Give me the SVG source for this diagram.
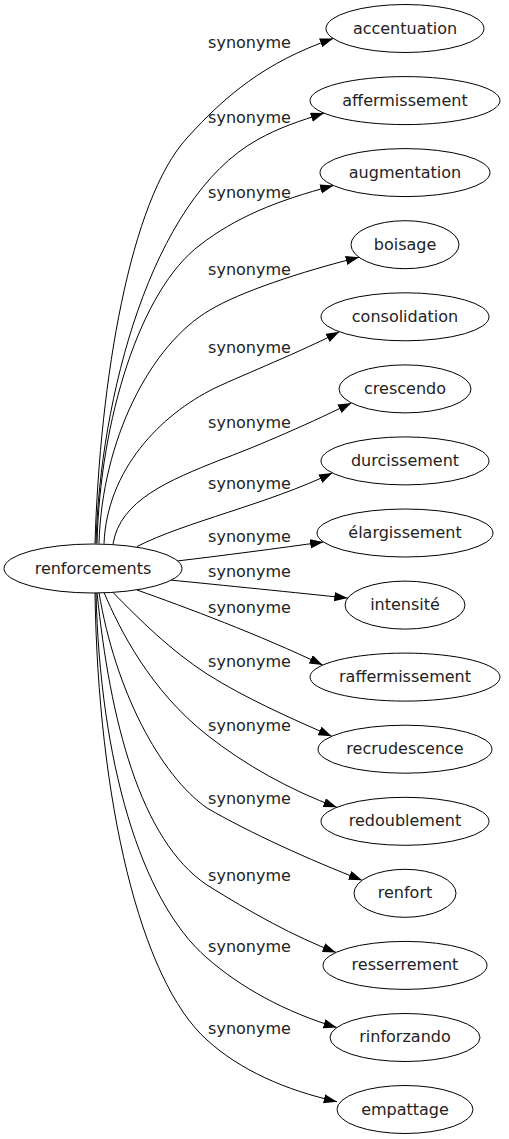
<svg xmlns="http://www.w3.org/2000/svg" width="509" height="1139" viewBox="0 0 509 1139">
<style>
.n ellipse{fill:#fff;stroke:#000;stroke-width:1}
text{font-family:"DejaVu Sans",sans-serif;font-size:16px;fill:#222;text-anchor:middle}
.e path{fill:none;stroke:#000;stroke-width:1}
</style>
<defs>
<marker id="ah" markerUnits="userSpaceOnUse" markerWidth="15" markerHeight="11" refX="13.3" refY="4.67" orient="auto">
<path d="M0,0 L13.3,4.67 L0,9.33 Z" fill="#000"/>
</marker>
</defs>
<rect width="509" height="1139" fill="#fff"/>
<g class="e" id="edges">
<path marker-end="url(#ah)" d="M95,543.5 C100,380 130,200 187,138 C225,96 265,62 333.2,38.5"/>
<path marker-end="url(#ah)" d="M96,543.5 C100,400 150,200 257,140 C280,127 300,121 324,113.1"/>
<path marker-end="url(#ah)" d="M97,543.5 C100,420 140,290 200,245 C235,218 275,201 333.5,185.6"/>
<path marker-end="url(#ah)" d="M99,543.5 C102,440 150,345 210,310 C240,292 300,272 359,257.2"/>
<path marker-end="url(#ah)" d="M104,543.7 C107,470 160,415 215,388 C245,374 300,352 339.4,331.8"/>
<path marker-end="url(#ah)" d="M113,544 C120,500 170,480 220,460 C250,449 300,428 351.4,402.9"/>
<path marker-end="url(#ah)" d="M137,546.5 C185,522 268,504 332.3,472.9"/>
<path marker-end="url(#ah)" d="M177,561 C220,556 280,548 323.4,542"/>
<path marker-end="url(#ah)" d="M170,580 C220,585 300,593 347.6,598.1"/>
<path marker-end="url(#ah)" d="M137,590 C185,607 260,635 322.7,665.1"/>
<path marker-end="url(#ah)" d="M113,592.5 C140,620 170,650 207,674 C245,698 290,718 331.8,736.2"/>
<path marker-end="url(#ah)" d="M104,592.5 C120,630 150,690 207,735 C245,765 290,790 336.8,807.3"/>
<path marker-end="url(#ah)" d="M99,592.5 C115,690 160,775 207,808 C250,833 310,860 362.1,880.3"/>
<path marker-end="url(#ah)" d="M97,592.5 C110,720 140,840 207,885 C250,912 295,937 336,952.4"/>
<path marker-end="url(#ah)" d="M96,592.5 C100,760 140,900 207,958 C240,987 285,1012 336.8,1027.5"/>
<path marker-end="url(#ah)" d="M95,592.5 C98,800 140,980 207,1040 C240,1070 285,1090 337,1101.7"/>
<text x="249.5" y="48">synonyme</text>
<text x="249.5" y="123">synonyme</text>
<text x="249.5" y="198">synonyme</text>
<text x="249.5" y="275">synonyme</text>
<text x="249.5" y="353">synonyme</text>
<text x="249.5" y="428">synonyme</text>
<text x="249.5" y="489">synonyme</text>
<text x="249.5" y="542">synonyme</text>
<text x="249.5" y="577">synonyme</text>
<text x="249.5" y="613">synonyme</text>
<text x="249.5" y="667">synonyme</text>
<text x="249.5" y="731">synonyme</text>
<text x="249.5" y="804">synonyme</text>
<text x="249.5" y="881">synonyme</text>
<text x="249.5" y="952">synonyme</text>
<text x="249.5" y="1034">synonyme</text>
</g>
<g class="n" id="renforcements"><ellipse cx="93" cy="568.5" rx="89" ry="24.5"/><text x="93" y="574">renforcements</text></g>
<g class="n" id="accentuation"><ellipse cx="405" cy="28.5" rx="79" ry="24"/><text x="405" y="34">accentuation</text></g>
<g class="n" id="affermissement"><ellipse cx="405" cy="100.6" rx="95" ry="24"/><text x="405" y="106">affermissement</text></g>
<g class="n" id="augmentation"><ellipse cx="405" cy="172.6" rx="85" ry="24"/><text x="405" y="178">augmentation</text></g>
<g class="n" id="boisage"><ellipse cx="405" cy="244.7" rx="54" ry="24"/><text x="405" y="250">boisage</text></g>
<g class="n" id="consolidation"><ellipse cx="405" cy="316.8" rx="84" ry="24"/><text x="405" y="322">consolidation</text></g>
<g class="n" id="crescendo"><ellipse cx="405" cy="388.9" rx="66" ry="24"/><text x="405" y="394">crescendo</text></g>
<g class="n" id="durcissement"><ellipse cx="405" cy="460.9" rx="84" ry="24"/><text x="405" y="466">durcissement</text></g>
<g class="n" id="elargissement"><ellipse cx="405" cy="533" rx="88" ry="24"/><text x="405" y="538">élargissement</text></g>
<g class="n" id="intensite"><ellipse cx="405" cy="605.1" rx="60" ry="24"/><text x="405" y="610">intensité</text></g>
<g class="n" id="raffermissement"><ellipse cx="405" cy="677.1" rx="95" ry="24"/><text x="405" y="682">raffermissement</text></g>
<g class="n" id="recrudescence"><ellipse cx="405" cy="749.2" rx="87" ry="24"/><text x="405" y="754">recrudescence</text></g>
<g class="n" id="redoublement"><ellipse cx="405" cy="821.3" rx="84" ry="24"/><text x="405" y="826">redoublement</text></g>
<g class="n" id="renfort"><ellipse cx="405" cy="893.3" rx="51" ry="24"/><text x="405" y="898">renfort</text></g>
<g class="n" id="resserrement"><ellipse cx="405" cy="965.4" rx="82" ry="24"/><text x="405" y="970">resserrement</text></g>
<g class="n" id="rinforzando"><ellipse cx="405" cy="1037.5" rx="75" ry="24"/><text x="405" y="1042">rinforzando</text></g>
<g class="n" id="empattage"><ellipse cx="405" cy="1109.5" rx="68" ry="24"/><text x="405" y="1115">empattage</text></g>
</svg>
